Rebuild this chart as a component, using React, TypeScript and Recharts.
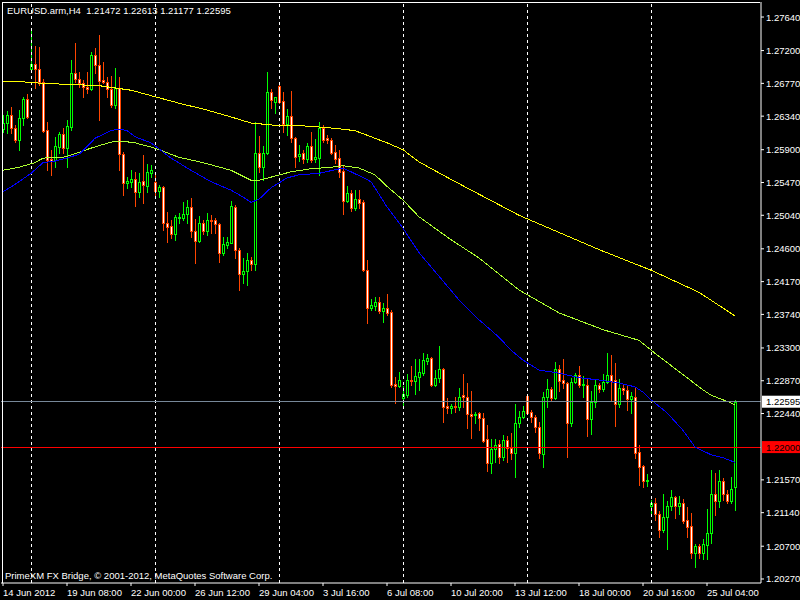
import React from 'react'
import { ComposedChart, Bar, Line, XAxis, YAxis, ReferenceLine } from 'recharts'

// EURUSD H4 candles (bar 0 = left edge)
const opens = [
  1.2617, 1.2625, 1.2636, 1.2618, 1.2603, 1.2632, 1.2657, 1.2696, 1.2702, 1.2696,
  1.2679, 1.2616, 1.2578, 1.2577, 1.2594, 1.2611, 1.2592, 1.2620, 1.2691, 1.2683,
  1.2677, 1.2672, 1.2670, 1.2714, 1.2701, 1.2681, 1.2679, 1.2670, 1.2649, 1.2671,
  1.2584, 1.2546, 1.2548, 1.2552, 1.2535, 1.2549, 1.2542, 1.2559, 1.2548, 1.2536,
  1.2541, 1.2494, 1.2490, 1.2479, 1.2500, 1.2500, 1.2506, 1.2515, 1.2483, 1.2470,
  1.2494, 1.2483, 1.2498, 1.2498, 1.2493, 1.2455, 1.2465, 1.2468, 1.2515, 1.2459,
  1.2427, 1.2431, 1.2445, 1.2440, 1.2586, 1.2567, 1.2586, 1.2666, 1.2653, 1.2674,
  1.2654, 1.2624, 1.2634, 1.2605, 1.2582, 1.2586, 1.2578, 1.2595, 1.2578, 1.2579,
  1.2618, 1.2605, 1.2603, 1.2587, 1.2579, 1.2562, 1.2523, 1.2533, 1.2514, 1.2525,
  1.2521, 1.2432, 1.2382, 1.2385, 1.2390, 1.2378, 1.2382, 1.2377, 1.2283, 1.2280,
  1.2264, 1.2268, 1.2288, 1.2287, 1.2292, 1.2297, 1.2313, 1.2317, 1.2281, 1.2291,
  1.2302, 1.2254, 1.2251, 1.2254, 1.2253, 1.2268, 1.2266, 1.2243, 1.2242, 1.2245,
  1.2238, 1.2211, 1.2179, 1.2198, 1.2204, 1.2187, 1.2209, 1.2199, 1.2192, 1.2232,
  1.2239, 1.2267, 1.2246, 1.2239, 1.2226, 1.2191, 1.2266, 1.2276, 1.2264, 1.2302,
  1.2288, 1.2284, 1.2232, 1.2285, 1.2295, 1.2281, 1.2281, 1.2237, 1.2259, 1.2281,
  1.2276, 1.2285, 1.2295, 1.2288, 1.2256, 1.2278, 1.2275, 1.2263, 1.2266, 1.2194,
  1.2175, 1.2156, 1.2123, 1.2127, 1.2112, 1.2091, 1.2108, 1.2123, 1.2135, 1.2123,
  1.2127, 1.2104, 1.2096, 1.2061, 1.2070, 1.2061, 1.2072, 1.2087, 1.2139, 1.2129,
  1.2156, 1.2139, 1.2129, 1.21472,
]
const highs = [
  1.2636, 1.2641, 1.2646, 1.2622, 1.2642, 1.2659, 1.2663, 1.2747, 1.2726, 1.2725,
  1.2683, 1.2626, 1.2590, 1.2607, 1.2613, 1.2618, 1.2629, 1.2708, 1.2730, 1.2692,
  1.2681, 1.2692, 1.2718, 1.2723, 1.2740, 1.2705, 1.2685, 1.2687, 1.2697, 1.2685,
  1.2587, 1.2554, 1.2563, 1.2561, 1.2559, 1.2583, 1.2571, 1.2570, 1.2557, 1.2544,
  1.2542, 1.2508, 1.2498, 1.2504, 1.2507, 1.2521, 1.2524, 1.2527, 1.2499, 1.2503,
  1.2498, 1.2507, 1.2504, 1.2500, 1.2494, 1.2476, 1.2476, 1.2523, 1.2518, 1.2461,
  1.2448, 1.2455, 1.2449, 1.2626, 1.2608, 1.2595, 1.2692, 1.2670, 1.2659, 1.2675,
  1.2666, 1.2643, 1.2667, 1.2607, 1.2596, 1.2590, 1.2599, 1.2613, 1.2604, 1.2626,
  1.2622, 1.2609, 1.2605, 1.2596, 1.2590, 1.2569, 1.2542, 1.2537, 1.2537, 1.2537,
  1.2524, 1.2445, 1.2394, 1.2397, 1.2397, 1.2389, 1.2401, 1.2380, 1.2292, 1.2298,
  1.2280, 1.2296, 1.2306, 1.2316, 1.2316, 1.2323, 1.2322, 1.2318, 1.2301, 1.2333,
  1.2304, 1.2264, 1.2256, 1.2266, 1.2278, 1.2296, 1.2284, 1.2274, 1.2246, 1.2246,
  1.2245, 1.2229, 1.2211, 1.2211, 1.2209, 1.2216, 1.2214, 1.2218, 1.2256, 1.2247,
  1.2254, 1.2268, 1.2249, 1.2242, 1.2233, 1.2272, 1.2289, 1.2279, 1.2312, 1.2308,
  1.2316, 1.2285, 1.2291, 1.2297, 1.2306, 1.2293, 1.2289, 1.2274, 1.2288, 1.2284,
  1.2296, 1.2323, 1.2321, 1.2310, 1.2289, 1.2281, 1.2280, 1.2272, 1.2278, 1.2203,
  1.2177, 1.2165, 1.2131, 1.2133, 1.2116, 1.2139, 1.2129, 1.2144, 1.2136, 1.2136,
  1.2132, 1.2121, 1.2114, 1.2073, 1.2073, 1.2080, 1.2119, 1.2170, 1.2166, 1.2170,
  1.2159, 1.2144, 1.2161, 1.22613,
]
const lows = [
  1.2613, 1.2612, 1.2612, 1.2600, 1.2590, 1.2622, 1.2632, 1.2693, 1.2671, 1.2675,
  1.2613, 1.2563, 1.2557, 1.2567, 1.2586, 1.2586, 1.2567, 1.2616, 1.2679, 1.2672,
  1.2659, 1.2664, 1.2668, 1.2691, 1.2629, 1.2677, 1.2659, 1.2646, 1.2645, 1.2563,
  1.2531, 1.2540, 1.2541, 1.2516, 1.2528, 1.2520, 1.2535, 1.2554, 1.2528, 1.2528,
  1.2485, 1.2469, 1.2474, 1.2472, 1.2494, 1.2498, 1.2494, 1.2476, 1.2441, 1.2469,
  1.2479, 1.2478, 1.2481, 1.2481, 1.2443, 1.2452, 1.2461, 1.2468, 1.2448, 1.2406,
  1.2415, 1.2413, 1.2432, 1.2432, 1.2561, 1.2550, 1.2584, 1.2645, 1.2638, 1.2651,
  1.2613, 1.2609, 1.2600, 1.2567, 1.2575, 1.2573, 1.2574, 1.2574, 1.2574, 1.2557,
  1.2600, 1.2599, 1.2584, 1.2573, 1.2554, 1.2506, 1.2521, 1.2510, 1.2511, 1.2514,
  1.2431, 1.2363, 1.2380, 1.2380, 1.2376, 1.2364, 1.2373, 1.2279, 1.2258, 1.2279,
  1.2253, 1.2266, 1.2281, 1.2270, 1.2275, 1.2295, 1.2309, 1.2280, 1.2280, 1.2285,
  1.2233, 1.2245, 1.2245, 1.2246, 1.2249, 1.2253, 1.2225, 1.2212, 1.2232, 1.2222,
  1.2207, 1.2169, 1.2166, 1.2180, 1.2179, 1.2183, 1.2180, 1.2184, 1.2161, 1.2226,
  1.2238, 1.2245, 1.2233, 1.2220, 1.2186, 1.2174, 1.2253, 1.2262, 1.2263, 1.2274,
  1.2278, 1.2187, 1.2228, 1.2284, 1.2279, 1.2266, 1.2214, 1.2217, 1.2253, 1.2272,
  1.2274, 1.2284, 1.2260, 1.2228, 1.2253, 1.2270, 1.2249, 1.2245, 1.2186, 1.2150,
  1.2148, 1.2149, 1.2110, 1.2104, 1.2082, 1.2089, 1.2066, 1.2118, 1.2107, 1.2112,
  1.2100, 1.2082, 1.2055, 1.2043, 1.2055, 1.2053, 1.2053, 1.2074, 1.2111, 1.2121,
  1.2131, 1.2127, 1.2127, 1.21177,
]
const closes = [
  1.2625, 1.2636, 1.2618, 1.2603, 1.2632, 1.2657, 1.2633, 1.2702, 1.2696, 1.2679,
  1.2615, 1.2577, 1.2575, 1.2595, 1.2611, 1.2592, 1.2621, 1.2691, 1.2683, 1.2677,
  1.2672, 1.2670, 1.2714, 1.2701, 1.2680, 1.2679, 1.2670, 1.2649, 1.2671, 1.2584,
  1.2546, 1.2549, 1.2552, 1.2535, 1.2548, 1.2544, 1.2561, 1.2563, 1.2536, 1.2541,
  1.2494, 1.2489, 1.2479, 1.2502, 1.2502, 1.2506, 1.2515, 1.2483, 1.2470, 1.2494,
  1.2483, 1.2498, 1.2497, 1.2493, 1.2455, 1.2466, 1.2469, 1.2516, 1.2459, 1.2427,
  1.2431, 1.2445, 1.2440, 1.2586, 1.2567, 1.2586, 1.2666, 1.2655, 1.2659, 1.2653,
  1.2624, 1.2634, 1.2605, 1.2580, 1.2584, 1.2578, 1.2595, 1.2577, 1.2580, 1.2618,
  1.2603, 1.2603, 1.2586, 1.2578, 1.2561, 1.2523, 1.2533, 1.2514, 1.2525, 1.2520,
  1.2432, 1.2382, 1.2386, 1.2390, 1.2378, 1.2382, 1.2376, 1.2281, 1.2280, 1.2288,
  1.2270, 1.2288, 1.2287, 1.2293, 1.2298, 1.2314, 1.2317, 1.2281, 1.2291, 1.2302,
  1.2253, 1.2251, 1.2254, 1.2253, 1.2266, 1.2266, 1.2243, 1.2241, 1.2243, 1.2238,
  1.2208, 1.2179, 1.2198, 1.2203, 1.2187, 1.2209, 1.2199, 1.2192, 1.2232, 1.2239,
  1.2247, 1.2245, 1.2239, 1.2226, 1.2192, 1.2266, 1.2276, 1.2264, 1.2302, 1.2287,
  1.2284, 1.2232, 1.2285, 1.2295, 1.2281, 1.2283, 1.2237, 1.2259, 1.2281, 1.2276,
  1.2285, 1.2295, 1.2287, 1.2256, 1.2278, 1.2275, 1.2263, 1.2267, 1.2192, 1.2174,
  1.2156, 1.2157, 1.2127, 1.2112, 1.2091, 1.2108, 1.2123, 1.2135, 1.2123, 1.2127,
  1.2103, 1.2095, 1.2061, 1.2070, 1.2061, 1.2073, 1.2087, 1.2139, 1.2129, 1.2156,
  1.2139, 1.2129, 1.2145, 1.22595,
]

// moving averages, sampled along each line: [bar, price]
const maSlow: [number, number][] = [
  [0, 1.2680], [5, 1.2679], [10, 1.2677], [24, 1.2674], [32, 1.2668], [44, 1.2651],
  [51, 1.2642], [57, 1.2633], [62, 1.2625], [68, 1.2622], [76, 1.2621], [83, 1.2618],
  [88, 1.2615], [92, 1.2607], [96, 1.2599], [100, 1.2590], [104, 1.2574], [112, 1.2551],
  [129, 1.2504], [149, 1.2459], [162, 1.2432], [174, 1.2403], [183, 1.2372],
]
const maMid: [number, number][] = [
  [0, 1.2563], [4, 1.2567], [8, 1.2573], [10, 1.2579], [15, 1.2580], [17, 1.2583],
  [22, 1.2592], [27, 1.2600], [30, 1.2601], [33, 1.2599], [38, 1.2592], [44, 1.2580],
  [50, 1.2573], [57, 1.2563], [62, 1.2550], [64, 1.2550], [67, 1.2554], [72, 1.2561],
  [77, 1.2565], [82, 1.2567], [85, 1.2569], [89, 1.2566], [93, 1.2557], [96, 1.2542],
  [100, 1.2524], [104, 1.2502], [112, 1.2472], [119, 1.2448], [129, 1.2406], [139, 1.2376],
  [150, 1.2354], [159, 1.2340], [163, 1.2323], [175, 1.2275], [177, 1.2268], [182, 1.2258],
  [183, 1.2255],
]
const maFast: [number, number][] = [
  [0, 1.2535], [2, 1.2541], [4, 1.2548], [7, 1.2559], [10, 1.2573], [13, 1.2575],
  [16, 1.2579], [19, 1.2584], [21, 1.2594], [23, 1.2605], [27, 1.2615], [29, 1.2617],
  [31, 1.2615], [33, 1.2607], [37, 1.2599], [42, 1.2579], [47, 1.2563], [52, 1.2548],
  [57, 1.2537], [60, 1.2528], [62, 1.2521], [64, 1.2525], [67, 1.2540], [71, 1.2553],
  [74, 1.2557], [79, 1.2559], [85, 1.2566], [89, 1.2556], [92, 1.2548], [96, 1.2515],
  [100, 1.2487], [104, 1.2455], [114, 1.2393], [119, 1.2367], [124, 1.2344], [127, 1.2327],
  [130, 1.2314], [134, 1.2301], [139, 1.2297], [144, 1.2291], [149, 1.2288], [154, 1.2284],
  [158, 1.2279], [160, 1.2272], [162, 1.2262], [166, 1.2245], [170, 1.2222], [173, 1.2200],
  [177, 1.2190], [180, 1.2186], [183, 1.2180],
]

const timeTickBars = [0, 16, 32, 48, 64, 80, 96, 112, 128, 144, 160, 176]
const timeTickLabels = [
  '14 Jun 2012', '19 Jun 08:00', '22 Jun 00:00', '26 Jun 12:00', '29 Jun 04:00', '3 Jul 16:00',
  '6 Jul 08:00', '10 Jul 20:00', '13 Jul 12:00', '18 Jul 00:00', '20 Jul 16:00', '25 Jul 04:00',
]
const priceTicks = [
  1.2764, 1.272, 1.2677, 1.2634, 1.259, 1.2547, 1.2504, 1.246, 1.2417, 1.2374,
  1.233, 1.2287, 1.2244, 1.2157, 1.2114, 1.207, 1.2027,
]
const separatorBars = [7, 38, 69, 100, 131, 162]
const bidPrice = 1.22595
const levelPrice = 1.22

const TOTAL_SLOTS = 190 // includes the chart shift on the right
const FONT = '"Liberation Sans", Arial, sans-serif'
const UP = '#00FF00'
const DOWN = '#FF4500'

const toMap = (pts: [number, number][]) => new Map(pts.map(([i, v]) => [i, v]))
const slowMap = toMap(maSlow)
const midMap = toMap(maMid)
const fastMap = toMap(maFast)

const data = Array.from({ length: TOTAL_SLOTS }, (_, i) => {
  const has = i < opens.length
  return {
    i,
    o: has ? opens[i] : null,
    h: has ? highs[i] : null,
    l: has ? lows[i] : null,
    c: has ? closes[i] : null,
    range: has ? [lows[i], highs[i]] : null,
    slow: slowMap.get(i) ?? null,
    mid: midMap.get(i) ?? null,
    fast: fastMap.get(i) ?? null,
  }
})

const Candle = (props: any) => {
  const { x, y, width, height, payload } = props
  if (!payload || payload.o == null) return null
  const top = Math.min(y, y + height)
  const bot = Math.max(y, y + height)
  const span = payload.h - payload.l
  const py = (v: number) => (span > 0 ? top + ((payload.h - v) / span) * (bot - top) : top)
  const up = payload.c >= payload.o
  const color = up ? UP : DOWN
  const inner = up ? '#000' : '#fff'
  const cx = Math.floor(x + width / 2)
  const hi = Math.round(py(payload.h))
  const lo = Math.round(py(payload.l))
  const bTop = Math.round(py(Math.max(payload.o, payload.c)))
  const bBot = Math.round(py(Math.min(payload.o, payload.c)))
  const bh = bBot - bTop + 1
  return (
    <g shapeRendering="crispEdges">
      <rect x={cx} y={hi} width={1} height={lo - hi + 1} fill={color} />
      <rect x={cx - 1} y={bTop} width={3} height={bh} fill={color} />
      {bh > 2 && <rect x={cx} y={bTop + 1} width={1} height={bh - 2} fill={inner} />}
    </g>
  )
}

const TimeTick = ({ x, y, payload }: any) => {
  const idx = timeTickBars.indexOf(payload.value)
  return (
    <text x={Math.floor(x)} y={y} dy={8} fill="#fff" fontSize={9.5} fontFamily={FONT} textAnchor="start">
      {idx >= 0 ? timeTickLabels[idx] : ''}
    </text>
  )
}

const PriceTick = ({ x, y, payload }: any) => (
  <text x={x} y={y} dy={3.5} fill="#fff" fontSize={9.5} fontFamily={FONT} textAnchor="start">
    {Number(payload.value).toFixed(5)}
  </text>
)

const priceTag = (text: string, bg: string, fg: string) => (p: any) => {
  const vb = p.viewBox
  if (!vb) return null
  return (
    <g>
      <rect x={vb.x + vb.width + 1} y={vb.y - 6} width={40} height={12} fill={bg} />
      <text x={vb.x + vb.width + 5} y={vb.y} dy={3.5} fill={fg} fontSize={9.5} fontFamily={FONT}>
        {text}
      </text>
    </g>
  )
}

export default function App() {
  return (
    <div style={{ position: 'relative', width: 800, height: 600, background: '#000', overflow: 'hidden' }}>
      <style>{'body{margin:0;background:#000}'}</style>
      <ComposedChart width={800} height={600} data={data} margin={{ top: 2, right: 0, bottom: 0, left: 1 }}>
        <XAxis
          dataKey="i"
          type="category"
          ticks={timeTickBars}
          interval={0}
          height={17}
          tickSize={3}
          stroke="#fff"
          axisLine={{ stroke: '#fff' }}
          tickLine={{ stroke: '#fff' }}
          tick={<TimeTick />}
        />
        <YAxis
          orientation="right"
          type="number"
          domain={[1.202175, 1.27837]}
          allowDataOverflow
          ticks={priceTicks}
          interval={0}
          width={39}
          tickSize={3}
          tickMargin={2}
          axisLine={{ stroke: '#fff' }}
          tickLine={{ stroke: '#fff' }}
          tick={<PriceTick />}
        />
        {separatorBars.map((b) => (
          <ReferenceLine key={b} x={b} stroke="#fff" strokeDasharray="3 3" shapeRendering="crispEdges" />
        ))}
        <ReferenceLine y={levelPrice} stroke="#FF0000" shapeRendering="crispEdges" label={priceTag('1.22000', '#FF0000', '#000')} />
        <Bar dataKey="range" barSize={3} shape={(p: any) => <Candle {...p} />} isAnimationActive={false} />
        <Line dataKey="slow" stroke="#FFFF00" strokeWidth={1} dot={false} activeDot={false} connectNulls shapeRendering="crispEdges" isAnimationActive={false} />
        <Line dataKey="mid" stroke="#ADFF2F" strokeWidth={1} dot={false} activeDot={false} connectNulls shapeRendering="crispEdges" isAnimationActive={false} />
        <Line dataKey="fast" stroke="#0000FF" strokeWidth={1} dot={false} activeDot={false} connectNulls shapeRendering="crispEdges" isAnimationActive={false} />
        <ReferenceLine y={bidPrice} stroke="#778899" shapeRendering="crispEdges" label={priceTag('1.22595', '#fff', '#000')} />
      </ComposedChart>
      <div style={{ position: 'absolute', left: 2, top: 2, width: 758, height: 581, borderLeft: '1px solid #fff', borderTop: '1px solid #fff', boxSizing: 'border-box', pointerEvents: 'none' }} />
      <div style={{ position: 'absolute', left: 7, top: 5, color: '#fff', fontFamily: FONT, fontSize: 9.5, whiteSpace: 'pre', lineHeight: '12px' }}>
        {'EURUSD.arm,H4  1.21472 1.22613 1.21177 1.22595'}
      </div>
      <div style={{ position: 'absolute', left: 5, top: 570, color: '#fff', fontFamily: FONT, fontSize: 9.5, whiteSpace: 'pre', lineHeight: '12px' }}>
        {'PrimeXM FX Bridge, © 2001-2012, MetaQuotes Software Corp.'}
      </div>
    </div>
  )
}
